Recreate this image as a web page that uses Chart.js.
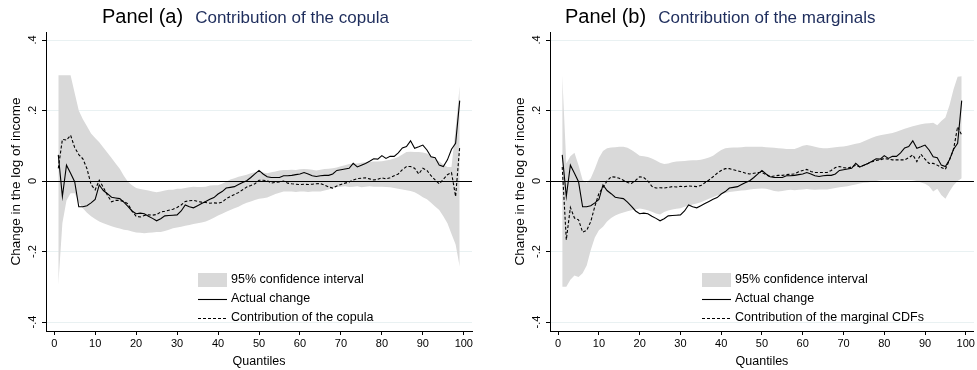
<!DOCTYPE html>
<html>
<head>
<meta charset="utf-8">
<script src="https://cdn.jsdelivr.net/npm/chart.js@4.4.1/dist/chart.umd.min.js"></script>
<style>
  html, body { margin: 0; padding: 0; background: #fff; }
  #wrap { position: relative; width: 977px; height: 370px; }
  #panelA { position: absolute; left: 0; top: 0; }
  #panelB { position: absolute; left: 490px; top: 0; }
</style>
</head>
<body>
<div id="wrap">
  <canvas id="panelA" width="490" height="370"></canvas>
  <canvas id="panelB" width="487" height="370"></canvas>
</div>
<script>
// quantiles 1..99
const quantiles = [
  1, 2, 3, 4, 5, 6, 7, 8, 9, 10, 11, 12, 13, 14, 15, 16, 17, 18, 19, 20,
  21, 22, 23, 24, 25, 26, 27, 28, 29, 30, 31, 32, 33, 34, 35, 36, 37, 38, 39, 40,
  41, 42, 43, 44, 45, 46, 47, 48, 49, 50, 51, 52, 53, 54, 55, 56, 57, 58, 59, 60,
  61, 62, 63, 64, 65, 66, 67, 68, 69, 70, 71, 72, 73, 74, 75, 76, 77, 78, 79, 80,
  81, 82, 83, 84, 85, 86, 87, 88, 89, 90, 91, 92, 93, 94, 95, 96, 97, 98, 99
];

const actualChange = [
  0.074, -0.044, 0.045, 0.022, -0.002, -0.073, -0.073, -0.070, -0.062, -0.052,
  -0.011, -0.027, -0.036, -0.046, -0.048, -0.050, -0.060, -0.072, -0.085, -0.093,
  -0.091, -0.093, -0.100, -0.106, -0.113, -0.107, -0.099, -0.098, -0.097, -0.096,
  -0.085, -0.068, -0.073, -0.076, -0.070, -0.064, -0.058, -0.052, -0.047, -0.037,
  -0.030, -0.020, -0.018, -0.016, -0.010, -0.004, 0.001, 0.010, 0.020, 0.030,
  0.020, 0.012, 0.010, 0.010, 0.010, 0.015, 0.015, 0.016, 0.018, 0.020,
  0.024, 0.020, 0.015, 0.013, 0.015, 0.016, 0.016, 0.020, 0.030, 0.032,
  0.034, 0.036, 0.050, 0.040, 0.045, 0.050, 0.056, 0.063, 0.062, 0.072,
  0.064, 0.070, 0.070, 0.080, 0.094, 0.098, 0.114, 0.093, 0.097, 0.102,
  0.088, 0.069, 0.066, 0.045, 0.041, 0.060, 0.090, 0.107, 0.228
];

const copulaContribution = [
  0.036, 0.118, 0.116, 0.130, 0.095, 0.075, 0.063, 0.035, -0.010, -0.025,
  0.002, -0.018, -0.040, -0.059, -0.055, -0.055, -0.058, -0.065, -0.085, -0.100,
  -0.102, -0.098, -0.096, -0.097, -0.095, -0.088, -0.086, -0.083, -0.080, -0.075,
  -0.068, -0.058, -0.056, -0.055, -0.058, -0.060, -0.061, -0.063, -0.062, -0.063,
  -0.060, -0.050, -0.044, -0.038, -0.033, -0.025, -0.017, -0.013, -0.008, 0.002,
  0.002, 0.001, -0.006, -0.004, -0.003, 0.000, -0.006, -0.008, -0.009, -0.010,
  -0.009, -0.010, -0.009, -0.008, -0.007, -0.012, -0.017, -0.020, -0.014, -0.010,
  -0.006, -0.003, 0.003, 0.007, 0.008, 0.009, 0.006, 0.003, 0.005, 0.009,
  0.006, 0.009, 0.015, 0.020, 0.032, 0.041, 0.041, 0.036, 0.020, 0.036,
  0.030, 0.015, 0.003, -0.008, 0.005, 0.018, 0.024, -0.044, 0.097
];

const ciUpperA = [
  0.300, 0.300, 0.300, 0.300, 0.250, 0.200, 0.175, 0.155, 0.135, 0.122,
  0.110, 0.095, 0.080, 0.065, 0.050, 0.035, 0.015, -0.002, -0.012, -0.020,
  -0.023, -0.025, -0.027, -0.030, -0.032, -0.030, -0.027, -0.025, -0.025, -0.022,
  -0.022, -0.020, -0.018, -0.016, -0.017, -0.017, -0.016, -0.013, -0.012, -0.012,
  -0.008, -0.002, 0.004, 0.008, 0.012, 0.015, 0.018, 0.022, 0.025, 0.026,
  0.024, 0.022, 0.025, 0.027, 0.030, 0.031, 0.031, 0.032, 0.031, 0.033,
  0.034, 0.033, 0.032, 0.030, 0.032, 0.034, 0.035, 0.036, 0.038, 0.042,
  0.045, 0.048, 0.050, 0.050, 0.052, 0.053, 0.054, 0.055, 0.055, 0.056,
  0.058, 0.060, 0.064, 0.068, 0.075, 0.082, 0.083, 0.082, 0.082, 0.081,
  0.078, 0.072, 0.062, 0.055, 0.047, 0.040, 0.040, 0.150, 0.270
];

const ciLowerA = [
  -0.295, -0.120, -0.055, -0.035, -0.035, -0.060, -0.077, -0.090, -0.100, -0.108,
  -0.115, -0.120, -0.124, -0.128, -0.132, -0.135, -0.138, -0.140, -0.143, -0.146,
  -0.147, -0.148, -0.147, -0.146, -0.145, -0.145, -0.142, -0.138, -0.134, -0.132,
  -0.130, -0.127, -0.125, -0.122, -0.120, -0.118, -0.115, -0.110, -0.104, -0.098,
  -0.093, -0.087, -0.082, -0.077, -0.073, -0.067, -0.062, -0.058, -0.054, -0.050,
  -0.049, -0.047, -0.042, -0.037, -0.033, -0.030, -0.030, -0.030, -0.031, -0.030,
  -0.030, -0.031, -0.030, -0.030, -0.030, -0.027, -0.024, -0.020, -0.017, -0.016,
  -0.015, -0.017, -0.016, -0.015, -0.018, -0.016, -0.015, -0.016, -0.016, -0.016,
  -0.017, -0.018, -0.020, -0.022, -0.024, -0.026, -0.028, -0.032, -0.038, -0.046,
  -0.052, -0.062, -0.072, -0.082, -0.100, -0.120, -0.150, -0.180, -0.243
];

const marginalContribution = [
  0.040, -0.167, -0.075, -0.105, -0.110, -0.145, -0.140, -0.115, -0.072, -0.035,
  -0.018, 0.000, 0.012, 0.011, 0.008, 0.002, -0.004, -0.007, 0.002, 0.012,
  0.010, 0.000, -0.015, -0.020, -0.019, -0.020, -0.018, -0.016, -0.017, -0.015,
  -0.016, -0.014, -0.015, -0.016, -0.013, -0.005, 0.003, 0.012, 0.022, 0.030,
  0.035, 0.035, 0.032, 0.029, 0.026, 0.022, 0.020, 0.022, 0.024, 0.024,
  0.018, 0.012, 0.014, 0.016, 0.016, 0.018, 0.019, 0.020, 0.026, 0.030,
  0.033, 0.027, 0.024, 0.024, 0.024, 0.024, 0.030, 0.038, 0.041, 0.038,
  0.036, 0.040, 0.045, 0.040, 0.045, 0.050, 0.055, 0.058, 0.060, 0.064,
  0.062, 0.060, 0.060, 0.060, 0.060, 0.066, 0.074, 0.055, 0.076, 0.062,
  0.050, 0.050, 0.045, 0.038, 0.033, 0.060, 0.090, 0.154, 0.130
];

const ciUpperB = [
  0.300, 0.050, 0.070, 0.080, 0.045, 0.003, -0.005, 0.008, 0.035, 0.065,
  0.085, 0.093, 0.095, 0.096, 0.097, 0.097, 0.094, 0.088, 0.080, 0.072,
  0.070, 0.068, 0.064, 0.058, 0.052, 0.048, 0.050, 0.053, 0.055, 0.056,
  0.057, 0.058, 0.059, 0.059, 0.060, 0.063, 0.067, 0.072, 0.080, 0.088,
  0.093, 0.094, 0.095, 0.095, 0.096, 0.097, 0.097, 0.097, 0.097, 0.097,
  0.096, 0.095, 0.094, 0.093, 0.092, 0.091, 0.091, 0.091, 0.095, 0.100,
  0.102, 0.100, 0.097, 0.094, 0.093, 0.093, 0.094, 0.096, 0.097, 0.098,
  0.100, 0.103, 0.106, 0.108, 0.113, 0.118, 0.123, 0.127, 0.130, 0.132,
  0.134, 0.136, 0.140, 0.144, 0.148, 0.152, 0.155, 0.158, 0.161, 0.163,
  0.164, 0.165, 0.158, 0.170, 0.180, 0.215, 0.260, 0.296, 0.297
];

const ciLowerB = [
  -0.300, -0.300, -0.280, -0.268, -0.272, -0.262, -0.240, -0.196, -0.160, -0.140,
  -0.130, -0.115, -0.105, -0.098, -0.093, -0.089, -0.086, -0.083, -0.080, -0.078,
  -0.080, -0.083, -0.087, -0.092, -0.095, -0.088, -0.084, -0.081, -0.079, -0.077,
  -0.073, -0.070, -0.067, -0.064, -0.060, -0.055, -0.050, -0.046, -0.041, -0.037,
  -0.034, -0.031, -0.030, -0.028, -0.027, -0.026, -0.024, -0.023, -0.022, -0.021,
  -0.022, -0.025, -0.028, -0.030, -0.028, -0.026, -0.025, -0.026, -0.025, -0.024,
  -0.023, -0.024, -0.025, -0.024, -0.024, -0.024, -0.022, -0.020, -0.018, -0.016,
  -0.015, -0.012, -0.010, -0.007, -0.005, -0.004, -0.002, 0.000, 0.002, 0.003,
  0.003, 0.003, 0.003, 0.003, 0.003, 0.003, 0.002, 0.000, -0.004, -0.008,
  -0.015, -0.030, -0.022, -0.040, -0.050, -0.030, -0.012, 0.000, 0.008
];

const xTickValues = [0, 10, 20, 30, 40, 50, 60, 70, 80, 90, 100];
const yTickValues = [-0.4, -0.2, 0, 0.2, 0.4];
const yTickLabels = ['-.4', '-.2', '0', '.2', '.4'];

const FONT = '"Liberation Sans", Arial, Helvetica, sans-serif';
Chart.defaults.font.family = FONT;
Chart.defaults.color = '#000';

function toPoints(values) {
    return quantiles.map((q, i) => ({ x: q, y: values[i] }));
}

// stata-like title: black "Panel (x)" then navy subtitle
const panelTitle = {
    id: 'panelTitle',
    afterDraw(chart, args, opts) {
        const ctx = chart.ctx;
        ctx.save();
        ctx.textBaseline = 'alphabetic';
        ctx.textAlign = 'left';
        ctx.font = '20px ' + FONT;
        ctx.fillStyle = '#000';
        ctx.fillText(opts.main, opts.x, 23);
        const w = ctx.measureText(opts.main).width;
        ctx.font = '17px ' + FONT;
        ctx.fillStyle = '#1e2d5c';
        ctx.fillText(opts.sub, opts.x + w + 12, 23);
        ctx.restore();
    }
};

// black reference line at zero, on top of the band
const zeroLine = {
    id: 'zeroLine',
    afterDatasetsDraw(chart) {
        const { ctx, chartArea, scales } = chart;
        const y = Math.round(scales.y.getPixelForValue(0)) + 0.5;
        ctx.save();
        ctx.strokeStyle = '#000';
        ctx.lineWidth = 1.2;
        ctx.beginPath();
        ctx.moveTo(chartArea.left, y);
        ctx.lineTo(chartArea.right, y);
        ctx.stroke();
        ctx.restore();
    }
};

// legend sitting inside the plot region
const insideLegend = {
    id: 'insideLegend',
    afterDraw(chart, args, opts) {
        const { ctx, chartArea } = chart;
        const x0 = chartArea.left + opts.offsetX;
        let y = chartArea.top + opts.offsetY;
        ctx.save();
        ctx.font = '12.5px ' + FONT;
        ctx.textBaseline = 'middle';
        ctx.textAlign = 'left';
        chart.data.datasets.filter(d => d.label).forEach(d => {
            if (d.fill) {
                ctx.fillStyle = d.backgroundColor;
                ctx.fillRect(x0, y - 7, 29, 14);
            } else {
                ctx.strokeStyle = d.borderColor;
                ctx.lineWidth = d.borderWidth;
                ctx.setLineDash(d.borderDash || []);
                ctx.beginPath();
                ctx.moveTo(x0, y + 0.5);
                ctx.lineTo(x0 + 29, y + 0.5);
                ctx.stroke();
                ctx.setLineDash([]);
            }
            ctx.fillStyle = '#000';
            ctx.fillText(d.label, x0 + 33, y);
            y += 19;
        });
        ctx.restore();
    }
};

function makePanel(canvasId, cfg) {
    return new Chart(document.getElementById(canvasId), {
        type: 'line',
        data: {
            datasets: [
                {
                    label: '95% confidence interval',
                    data: toPoints(cfg.upper),
                    fill: '+1',
                    backgroundColor: '#d9d9d9',
                    borderWidth: 0,
                    pointRadius: 0,
                    order: 3
                },
                {
                    data: toPoints(cfg.lower),
                    fill: false,
                    borderWidth: 0,
                    pointRadius: 0,
                    order: 3
                },
                {
                    label: 'Actual change',
                    data: toPoints(actualChange),
                    fill: false,
                    borderColor: '#000',
                    borderWidth: 1.1,
                    pointRadius: 0,
                    order: 1
                },
                {
                    label: cfg.contribLabel,
                    data: toPoints(cfg.contrib),
                    fill: false,
                    borderColor: '#000',
                    borderWidth: 1.1,
                    borderDash: [3, 2],
                    pointRadius: 0,
                    order: 2
                }
            ]
        },
        options: {
            responsive: false,
            animation: false,
            devicePixelRatio: 1,
            layout: { padding: cfg.padding },
            elements: { line: { tension: 0 } },
            plugins: {
                legend: { display: false },
                tooltip: { enabled: false },
                panelTitle: { main: cfg.title, sub: cfg.subtitle, x: cfg.titleX },
                insideLegend: { offsetX: 152, offsetY: 248 }
            },
            scales: {
                x: {
                    type: 'linear',
                    min: -2,
                    max: 102,
                    afterBuildTicks: s => { s.ticks = xTickValues.map(v => ({ value: v })); },
                    afterFit: s => { s.height = 39; },
                    border: { display: true, color: '#000', width: 1 },
                    grid: { drawOnChartArea: false, tickLength: 4, tickColor: '#000' },
                    ticks: { color: '#000', font: { size: 11 }, padding: 2, maxRotation: 0, autoSkip: false },
                    title: { display: true, text: 'Quantiles', color: '#000', font: { size: 12.5 }, padding: { top: 0, bottom: 1 } }
                },
                y: {
                    type: 'linear',
                    min: -0.4255,
                    max: 0.4227,
                    afterBuildTicks: s => { s.ticks = yTickValues.map(v => ({ value: v })); },
                    afterFit: s => { s.width = 46; },
                    border: { display: true, color: '#000', width: 1 },
                    grid: { color: '#e9f1f2', lineWidth: 1, tickLength: 4, tickColor: '#000' },
                    ticks: {
                        color: '#000',
                        font: { size: 11 },
                        minRotation: 90,
                        maxRotation: 90,
                        crossAlign: 'center',
                        padding: 3,
                        autoSkip: false,
                        callback: v => yTickLabels[yTickValues.indexOf(v)]
                    },
                    title: { display: true, text: 'Change in the log of income', color: '#000', font: { size: 13.5 }, padding: { top: 8, bottom: 0 } }
                }
            }
        },
        plugins: [panelTitle, zeroLine, insideLegend]
    });
}

makePanel('panelA', {
    upper: ciUpperA,
    lower: ciLowerA,
    contrib: copulaContribution,
    contribLabel: 'Contribution of the copula',
    title: 'Panel (a)',
    subtitle: 'Contribution of the copula',
    titleX: 102,
    padding: { left: 0, right: 18, top: 32, bottom: 0 }
});

makePanel('panelB', {
    upper: ciUpperB,
    lower: ciLowerB,
    contrib: marginalContribution,
    contribLabel: 'Contribution of the marginal CDFs',
    title: 'Panel (b)',
    subtitle: 'Contribution of the marginals',
    titleX: 75,
    padding: { left: 14, right: 2, top: 32, bottom: 0 }
});
</script>
</body>
</html>
